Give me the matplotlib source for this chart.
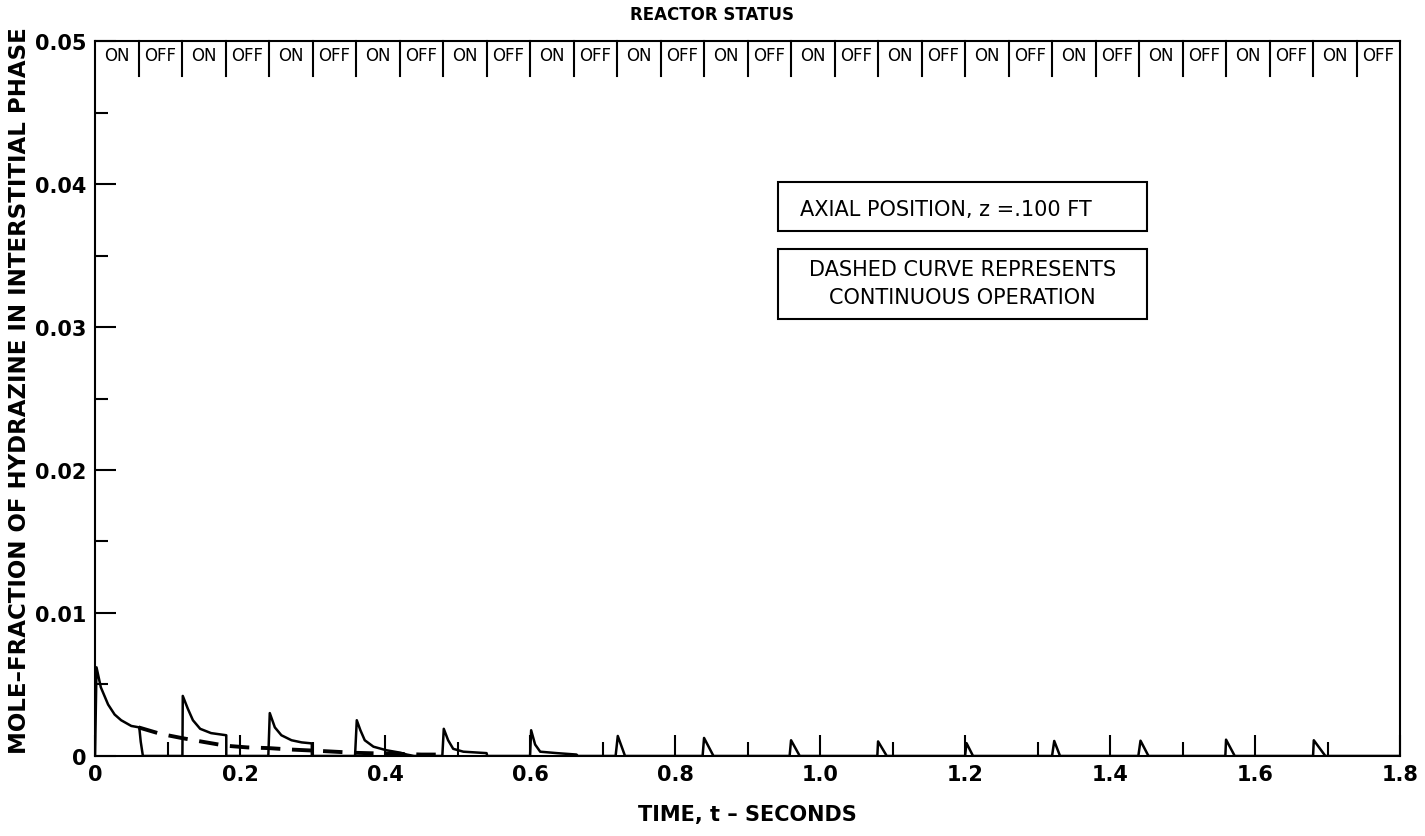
import matplotlib
matplotlib.use("Agg")
import matplotlib.pyplot as plt
from matplotlib.patches import Rectangle
from matplotlib.ticker import MultipleLocator

# pulsed operation (solid curve)
solid_t = [0.0, 0.002, 0.008, 0.018, 0.027, 0.036, 0.050, 0.061, 0.063, 0.066,
           0.1205, 0.121, 0.128, 0.135, 0.145, 0.160, 0.181, 0.181,
           0.239, 0.241, 0.248, 0.257, 0.271, 0.285, 0.299, 0.299,
           0.3586, 0.361, 0.366, 0.372, 0.384, 0.402, 0.421, 0.430, 0.440,
           0.479, 0.481, 0.487, 0.494, 0.508, 0.540, 0.541,
           0.600, 0.6015, 0.607, 0.614, 0.637, 0.664, 0.666,
           0.718, 0.721, 0.731,
           0.838, 0.840, 0.853,
           0.958, 0.960, 0.972,
           1.079, 1.080, 1.092,
           1.200, 1.202, 1.211,
           1.320, 1.323, 1.331,
           1.439, 1.442, 1.453,
           1.559, 1.560, 1.572,
           1.680, 1.681, 1.697,
           1.800]
solid_y = [0.0, 0.0062, 0.0048, 0.0036, 0.0029, 0.0025, 0.0021, 0.0020, 0.0010, 0.0,
           0.0, 0.0042, 0.0033, 0.0025, 0.0019, 0.0016, 0.00145, 0.0,
           0.0, 0.0030, 0.0020, 0.00145, 0.0011, 0.00095, 0.00088, 0.0,
           0.0, 0.0025, 0.0018, 0.0011, 0.00065, 0.0004, 0.00023, 0.0001, 0.0,
           0.0, 0.0019, 0.0011, 0.0005, 0.0003, 0.0002, 0.0,
           0.0, 0.0018, 0.0008, 0.0003, 0.0002, 0.0001, 0.0,
           0.0, 0.0014, 0.0,
           0.0, 0.00126, 0.0,
           0.0, 0.0011, 0.0,
           0.0, 0.00102, 0.0,
           0.0, 0.0009, 0.0,
           0.0, 0.00105, 0.0,
           0.0, 0.00107, 0.0,
           0.0, 0.00114, 0.0,
           0.0, 0.0011, 0.0,
           0.0]

# continuous operation (dashed curve)
dashed_t = [0.06, 0.09, 0.12, 0.15, 0.18, 0.21, 0.24, 0.27, 0.30, 0.33,
            0.36, 0.39, 0.42, 0.45, 0.47]
dashed_y = [0.0020, 0.00155, 0.00125, 0.00098, 0.00072, 0.00060, 0.00055, 0.00045,
            0.00038, 0.00030, 0.00022, 0.00018, 0.00015, 0.00010, 0.00010]

status_period = 0.06
status_labels = ["ON", "OFF"] * 15

xticks = [0, 0.2, 0.4, 0.6, 0.8, 1.0, 1.2, 1.4, 1.6, 1.8]
xticklabels = ["0", "0.2", "0.4", "0.6", "0.8", "1.0", "1.2", "1.4", "1.6", "1.8"]
yticks = [0, 0.01, 0.02, 0.03, 0.04, 0.05]
yticklabels = ["0", "0.01", "0.02", "0.03", "0.04", "0.05"]

plt.rcParams['font.family'] = 'DejaVu Sans'

fig = plt.figure(figsize=(14.25, 8.37), dpi=100)
ax = fig.add_axes([0.0667, 0.0956, 0.9158, 0.8542])

ax.plot(solid_t, solid_y, color='black', lw=1.8)
ax.plot(dashed_t, dashed_y, color='black', lw=2.8, linestyle=(0, (5, 3)))

ax.set_xlim(0, 1.8)
ax.set_ylim(0, 0.05)
ax.set_xticks(xticks)
ax.set_xticklabels(xticklabels, fontsize=15, fontweight='bold')
ax.set_yticks(yticks)
ax.set_yticklabels(yticklabels, fontsize=15, fontweight='bold')
ax.xaxis.set_minor_locator(MultipleLocator(0.1))
ax.yaxis.set_minor_locator(MultipleLocator(0.005))
ax.tick_params(which='both', direction='in', width=1.5, top=False, right=False)
ax.tick_params(which='major', length=15, pad=6)
ax.tick_params(axis='x', which='minor', length=10)
ax.tick_params(axis='y', which='minor', length=9)
for s in ax.spines.values():
    s.set_linewidth(1.5)

# reactor status strip along the top
for k, lab in enumerate(status_labels):
    t0 = k * status_period
    if k > 0:
        ax.plot([t0, t0], [0.05, 0.04755], color='black', lw=1.5, clip_on=False)
    ax.text(t0 + status_period / 2, 0.04905, lab, ha='center', va='center',
            fontsize=12)

fig.text(0.5, 0.982, "REACTOR STATUS", ha='center', va='center',
         fontsize=12, fontweight='bold')

ax.set_xlabel("TIME, t \u2013 SECONDS", fontsize=15, fontweight='bold', labelpad=14)
ax.set_ylabel("MOLE\u2013FRACTION OF HYDRAZINE IN INTERSTITIAL PHASE",
              fontsize=16.5, fontweight='bold')
ax.yaxis.set_label_coords(-0.049, 0.513)

# note boxes
fig.add_artist(Rectangle((0.546, 0.7228), 0.259, 0.0585, transform=fig.transFigure,
                         fill=False, lw=1.5, edgecolor='black'))
fig.add_artist(Rectangle((0.546, 0.6177), 0.259, 0.0836, transform=fig.transFigure,
                         fill=False, lw=1.5, edgecolor='black'))
fig.text(0.5614, 0.749, "AXIAL POSITION, z =.100 FT", ha='left', va='center',
         fontsize=15)
fig.text(0.6755, 0.6607, "DASHED CURVE REPRESENTS\nCONTINUOUS OPERATION",
         ha='center', va='center', fontsize=15, linespacing=1.5)

fig.savefig("out.png", dpi=100)
